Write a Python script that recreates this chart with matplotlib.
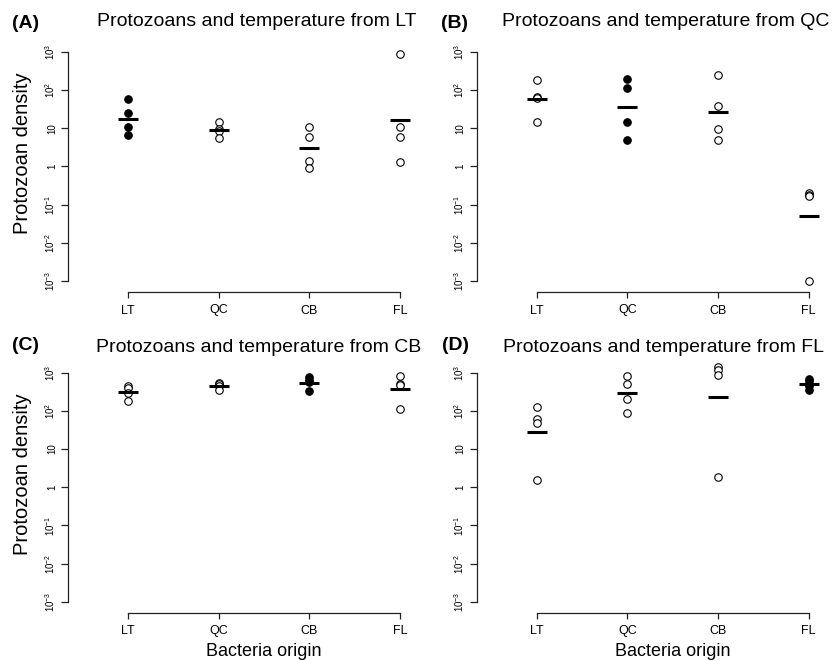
import numpy as np
from matplotlib import pyplot as plt

plt.rcParams["font.family"] = ["Liberation Sans", "DejaVu Sans"]
plt.rcParams["mathtext.fontset"] = "custom"
plt.rcParams["mathtext.rm"] = "Liberation Sans"

origins = ["LT", "QC", "CB", "FL"]
panel_tags = ["(A)", "(B)", "(C)", "(D)"]

# protozoan density per bacteria origin (4 replicates), one list per panel
dens_LT = [[57, 25, 11, 6.6], [15, 9.5, 8.5, 5.5], [11, 6, 1.4, 0.9], [890, 11, 6, 1.3]]
dens_QC = [[185, 66, 62, 14.7], [200, 114, 14.7, 4.9], [255, 39, 9.8, 4.9], [0.2, 0.18, 0.17, 0.001]]
dens_CB = [[457, 390, 295, 182], [537, 500, 437, 345], [760, 630, 560, 340], [820, 505, 470, 110]]
dens_FL = [[127, 63, 49, 1.5], [835, 495, 205, 87], [1435, 1175, 870, 1.8], [685, 600, 450, 355]]
panels = [dens_LT, dens_QC, dens_CB, dens_FL]

W, H = 840, 661
fig = plt.figure(figsize=(8.4, 6.61), dpi=100)

# axes rectangles in pixels: left, top, right, bottom
boxes = [(68, 40, 460, 292), (476.7, 40, 868.7, 292),
         (68, 360.7, 460, 612.7), (476.7, 360.7, 868.7, 612.7)]
title_xy = [(97, 22), (502, 22), (96, 347), (503, 347)]
tag_xy = [(12, 23), (441, 23), (12, 345), (442, 345)]

yticks = [1e-3, 1e-2, 1e-1, 1, 10, 1e2, 1e3]
ylabels = [r"$10^{-3}$", r"$10^{-2}$", r"$10^{-1}$", "1", "10", r"$10^{2}$", r"$10^{3}$"]

for i, (l, t, r, b) in enumerate(boxes):
    ax = fig.add_axes([l / W, 1 - b / H, (r - l) / W, (b - t) / H])
    ax.set_yscale("log")
    ax.set_xlim(0.338, 4.662)
    ax.set_ylim(10 ** -3.288, 10 ** 3.314)
    for j, vals in enumerate(panels[i]):
        x = np.full(len(vals), j + 1)
        home = (j == i)
        ax.plot(x, vals, "o", ms=5.4, mec="black", mew=0.8,
                mfc="black" if home else "white", zorder=3, clip_on=False)
        gm = 10 ** np.mean(np.log10(vals))
        ax.plot([j + 1 - 0.11, j + 1 + 0.11], [gm, gm], color="black", lw=2.2,
                solid_capstyle="butt", zorder=4)
    for s in ["top", "right"]:
        ax.spines[s].set_visible(False)
    ax.spines["left"].set_bounds(1e-3, 1e3)
    ax.spines["bottom"].set_bounds(1, 4)
    for s in ["left", "bottom"]:
        ax.spines[s].set_linewidth(0.9)
        ax.spines[s].set_color("#222222")
    ax.set_yticks(yticks)
    ax.set_yticklabels(ylabels, rotation=90, va="center", fontsize=7)
    ax.minorticks_off()
    ax.set_xticks([1, 2, 3, 4])
    ax.set_xticklabels(origins, fontsize=9)
    ax.tick_params(axis="y", length=5, width=0.9, pad=3, color="#222222")
    ax.tick_params(axis="x", length=4, width=0.9, pad=5, color="#222222")
    if i % 2 == 0:
        ax.set_ylabel("Protozoan density", fontsize=14.5)
        ax.yaxis.set_label_coords(-0.092, 0.55)
    if i >= 2:
        ax.set_xlabel("Bacteria origin", fontsize=13, labelpad=4)
    fig.text(title_xy[i][0] / W, 1 - title_xy[i][1] / H,
             "Protozoans and temperature from " + origins[i],
             fontsize=14, va="center", ha="left")
    fig.text(tag_xy[i][0] / W, 1 - tag_xy[i][1] / H, panel_tags[i], fontsize=14,
             fontweight="bold", va="center", ha="left")

fig.savefig("out.png", dpi=100)
